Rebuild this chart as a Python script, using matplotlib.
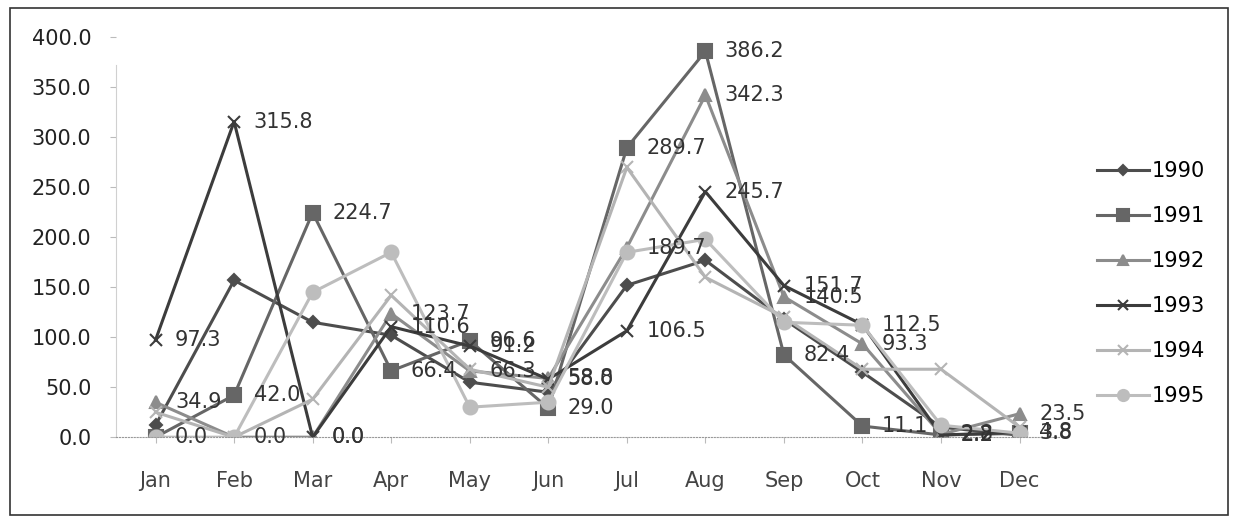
import matplotlib.pyplot as plt
from matplotlib.patches import Rectangle

months = ["Jan", "Feb", "Mar", "Apr", "May", "Jun", "Jul", "Aug", "Sep", "Oct", "Nov", "Dec"]
y1990 = [12, 157, 115, 102, 55, 45, 152, 177, 118, 65, 10, 2]
y1991 = [0.0, 42.0, 224.7, 66.4, 96.6, 29.0, 289.7, 386.2, 82.4, 11.1, 2.2, 3.8]
y1992 = [34.9, 0.0, 0.0, 123.7, 66.3, 58.8, 189.7, 342.3, 140.5, 93.3, 2.8, 23.5]
y1993 = [97.3, 315.8, 0.0, 110.6, 91.2, 58.0, 106.5, 245.7, 151.7, 112.5, 2.2, 4.8]
y1994 = [25, 0, 38, 142, 68, 50, 270, 160, 120, 68, 68, 10]
y1995 = [0, 0, 145, 185, 30, 35, 185, 198, 115, 112, 12, 4]

series = [
    ("1990", y1990, "#4d4d4d", "D", 6, False),
    ("1991", y1991, "#666666", "s", 10, True),
    ("1992", y1992, "#8c8c8c", "^", 9, True),
    ("1993", y1993, "#3c3c3c", "x", 9, True),
    ("1994", y1994, "#b4b4b4", "x", 9, False),
    ("1995", y1995, "#bdbdbd", "o", 10, False),
]

fs = 15
fig = plt.figure(figsize=(12.37, 5.28), dpi=100)
ax = fig.add_axes([0.094, 0.172, 0.762, 0.757])
x = list(range(len(months)))

for name, vals, col, mk, ms, lab in series:
    ax.plot(x, vals, color=col, lw=2.2, marker=mk, ms=ms, mew=1.5,
            mec=col, mfc=col, label=name)
    if lab:
        for xi, v in zip(x, vals):
            ax.annotate(f"{v:.1f}", (xi, v), xytext=(14, 0), textcoords="offset points",
                        va="center", ha="left", fontsize=fs, color="#333333")

ax.set_xlim(-0.5, 11.5)
ax.set_ylim(0, 400)
ax.set_yticks(range(0, 401, 50))
ax.set_yticklabels([f"{v:.1f}" for v in range(0, 401, 50)])
ax.set_xticks(x)
ax.set_xticklabels(months)
ax.tick_params(axis="y", labelsize=fs, length=4, color="#bbbbbb", labelcolor="#222222", pad=14)
ax.tick_params(axis="x", labelsize=fs, length=4, color="#bbbbbb", labelcolor="#444444", pad=20)
for s in ["top", "right"]:
    ax.spines[s].set_visible(False)
ax.spines["left"].set_color("#d0d0d0")
ax.spines["left"].set_bounds(0, 372)
ax.spines["bottom"].set_color("#999999")
ax.spines["bottom"].set_linestyle(":")

fig.legend(loc="upper left", bbox_to_anchor=(0.872, 0.73), frameon=False,
           fontsize=fs, labelspacing=1.2, handlelength=2.5, handletextpad=0.1,
           markerscale=0.8)

fig.patches.append(Rectangle((0.008, 0.025), 0.985, 0.96, transform=fig.transFigure,
                             fill=False, ec="#333333", lw=1.2))

fig.savefig("out.png", dpi=100)
